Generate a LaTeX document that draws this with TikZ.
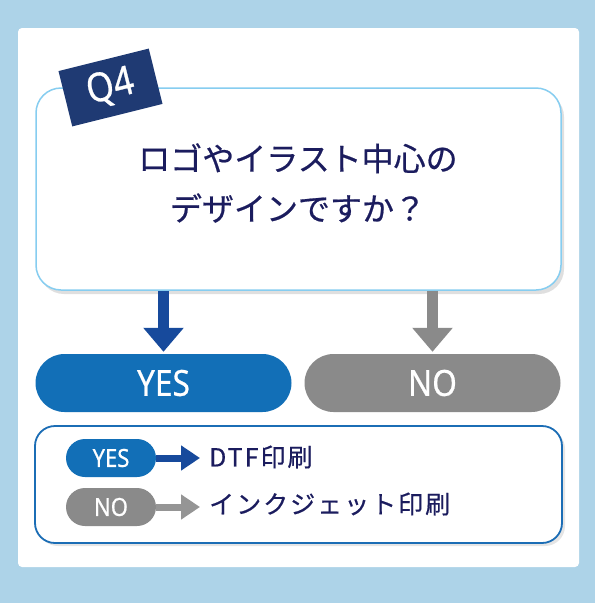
\documentclass[tikz,border=0pt]{standalone}
\usepackage{fontspec}
\setmainfont{Noto Sans CJK JP}
\newfontfamily\jpbold[FakeBold=0.6]{Noto Sans CJK JP}
\newfontfamily\jpwide[LetterSpace=8,FakeBold=0.5]{Noto Sans CJK JP}
\newfontfamily\narrow[FakeStretch=0.88,FakeBold=0.6]{Noto Sans}
\usetikzlibrary{arrows.meta,shadows,positioning}

\definecolor{bgblue}{HTML}{ADD3E8}
\definecolor{qborder}{HTML}{86CDF0}
\definecolor{tagnavy}{HTML}{1F3A73}
\definecolor{textnavy}{HTML}{1B1C5E}
\definecolor{yesblue}{HTML}{126FB7}
\definecolor{arrowblue}{HTML}{174A9C}
\definecolor{nogray}{HTML}{8A8A8A}
\definecolor{arrowgray}{HTML}{959595}
\definecolor{legborder}{HTML}{1B6DB5}

\tikzset{
  qbox/.style={draw=qborder,line width=1.5pt,fill=white,rounded corners=25pt,
    minimum width=525pt,minimum height=202pt,
    drop shadow={shadow xshift=3pt,shadow yshift=-4pt,opacity=0.25}},
  tag/.style={fill=tagnavy,text=white,minimum width=93pt,minimum height=57pt,
    font=\narrow\fontsize{40}{40}\selectfont},
  pill/.style={text=white,minimum width=256pt,minimum height=58pt,rounded corners=29pt,
    font=\narrow\fontsize{36}{36}\selectfont},
  smallpill/.style={text=white,minimum width=90pt,minimum height=38pt,rounded corners=19pt,
    font=\narrow\fontsize{25}{25}\selectfont},
  legbox/.style={draw=legborder,line width=1.8pt,fill=white,rounded corners=20pt,
    minimum width=527pt,minimum height=117pt,
    drop shadow={shadow xshift=3pt,shadow yshift=-3pt,opacity=0.2}},
  legtext/.style={text=textnavy,inner sep=0pt,anchor=west,font=\jpwide\fontsize{25}{25}\selectfont},
  bigarrow/.style={line width=11pt,-{Triangle[width=39pt,length=24pt]},shorten >=2pt},
  smallarrow/.style={line width=7pt,-{Triangle[width=24pt,length=19pt]},shorten >=9pt}
}

\begin{document}
\begin{tikzpicture}[x=1pt,y=-1pt]
  \fill[bgblue] (0,0) rectangle (595,603);
  \useasboundingbox (0,0) rectangle (595,603);
  \fill[white,rounded corners=4pt] (18,28) rectangle (579,567);

  % question
  \node[qbox] (q) at (298.5,189) {};
  \node[tag,rotate=14] (tag) at (110.5,87.5) {Q4};
  \node[text=textnavy,align=center,font=\jpbold\fontsize{32}{50}\selectfont] (qtext) at (298,183)
    {ロゴやイラスト中心の\\デザインですか？};

  % answers
  \node[pill,fill=yesblue] (yes) at (163.5,383) {YES};
  \node[pill,fill=nogray] (no) at (432.5,383) {NO};
  \draw[bigarrow,arrowblue] (q.south -| yes) -- (yes.north);
  \draw[bigarrow,nogray] (q.south -| no) -- (no.north);

  % legend
  \node[legbox] (leg) at (298.5,484.5) {};
  \node[smallpill,fill=yesblue] (lyes) at (111,458) {YES};
  \node[smallpill,fill=nogray] (lno) at (111,507) {NO};
  \node[legtext] (dtf) at (209,457) {DTF印刷};
  \node[legtext] (inkjet) at (209,504) {インクジェット印刷};
  \draw[smallarrow,arrowblue] (lyes.east) -- (lyes.east -| dtf.west);
  \draw[smallarrow,arrowgray] (lno.east) -- (lno.east -| inkjet.west);
\end{tikzpicture}
\end{document}
